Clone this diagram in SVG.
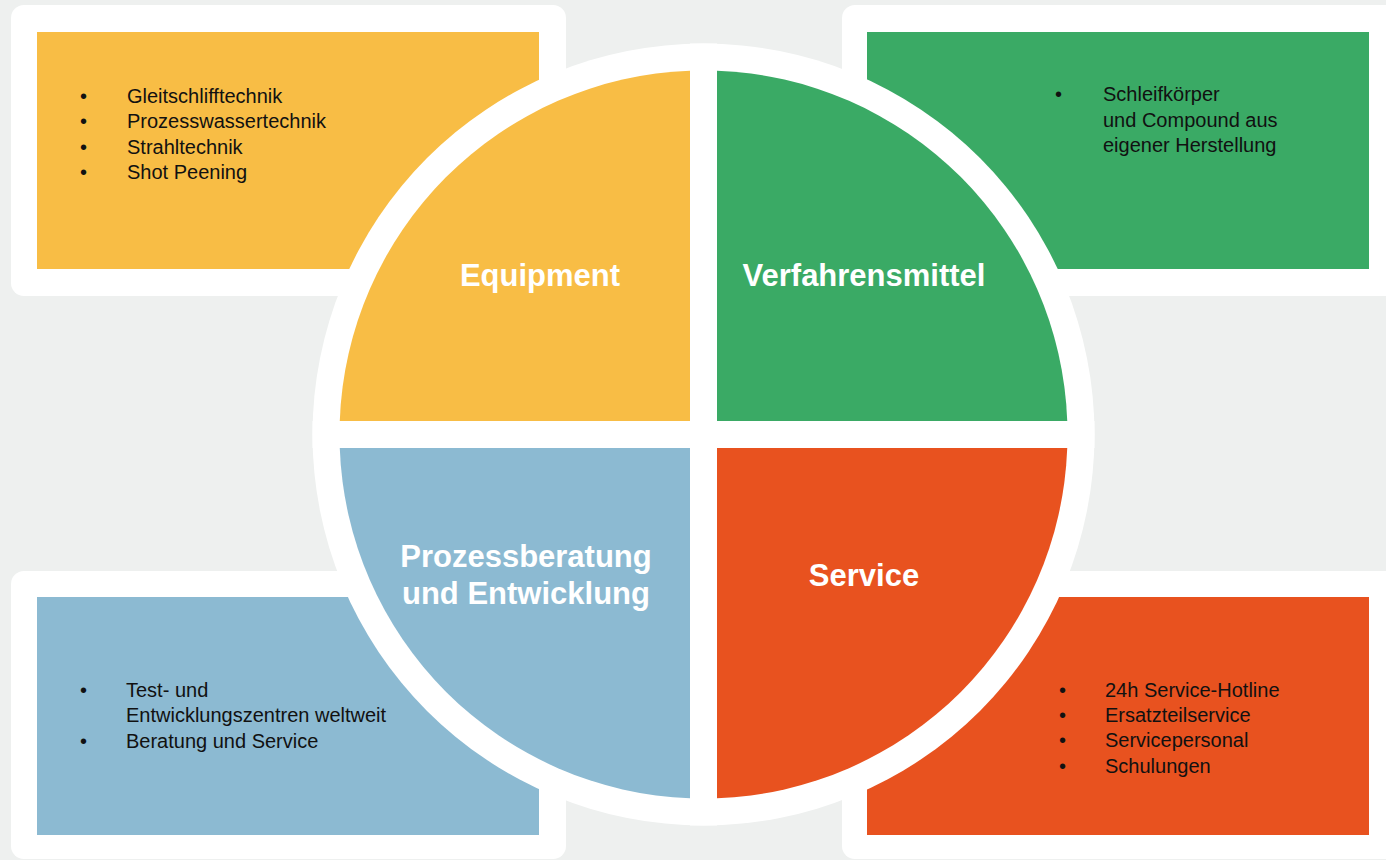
<svg xmlns="http://www.w3.org/2000/svg" width="1386" height="860" viewBox="0 0 1386 860">
  <style>
    .panel { fill: #ffffff; }
    .list { font-family: "Liberation Sans", Arial, sans-serif; font-size: 20px; fill: #111111; }
    .title { font-family: "Liberation Sans", Arial, sans-serif; font-size: 31px; font-weight: bold; fill: #ffffff; text-anchor: middle; }
    .yel { fill: #f8bd45; }
    .grn { fill: #3aaa65; }
    .blu { fill: #8cbad2; }
    .org { fill: #e8521f; }
  </style>
  <rect x="0" y="0" width="1386" height="860" fill="#eef0ef"/>

  <!-- corner panels -->
  <g id="panel-equipment">
    <rect class="panel" x="11" y="5" width="555" height="291" rx="13"/>
    <rect class="yel" x="37" y="32" width="502" height="237"/>
  </g>
  <g id="panel-verfahrensmittel">
    <rect class="panel" x="842" y="5" width="560" height="291" rx="13"/>
    <rect class="grn" x="867" y="32" width="502" height="237"/>
  </g>
  <g id="panel-prozessberatung">
    <rect class="panel" x="11" y="571" width="555" height="288" rx="13"/>
    <rect class="blu" x="37" y="597" width="502" height="238"/>
  </g>
  <g id="panel-service">
    <rect class="panel" x="842" y="571" width="560" height="288" rx="13"/>
    <rect class="org" x="867" y="597" width="502" height="238"/>
  </g>

  <!-- central circle -->
  <g id="circle">
    <circle cx="703.5" cy="434.5" r="391" fill="#ffffff"/>
    <rect x="312.5" y="421" width="782" height="27" fill="#ffffff"/>
    <rect x="690" y="43.5" width="27" height="782" fill="#ffffff"/>
  </g>

  <g id="quadrant-equipment">
    <path class="yel" d="M690,421 L339.75,421 A364,364 0 0 1 690,70.75 Z"/>
    <text class="title" x="540" y="286">Equipment</text>
  </g>
  <g id="quadrant-verfahrensmittel">
    <path class="grn" d="M717,421 L717,70.75 A364,364 0 0 1 1067.25,421 Z"/>
    <text class="title" x="864" y="286">Verfahrensmittel</text>
  </g>
  <g id="quadrant-prozessberatung">
    <path class="blu" d="M690,448 L690,798.25 A364,364 0 0 1 339.75,448 Z"/>
    <text class="title" x="526" y="567">Prozessberatung</text>
    <text class="title" x="526" y="604">und Entwicklung</text>
  </g>
  <g id="quadrant-service">
    <path class="org" d="M717,448 L1067.25,448 A364,364 0 0 1 717,798.25 Z"/>
    <text class="title" x="864" y="586">Service</text>
  </g>

  <!-- lists -->
  <g id="list-equipment" class="list">
    <text x="80" y="103">•</text><text x="127" y="103">Gleitschlifftechnik</text>
    <text x="80" y="128">•</text><text x="127" y="128">Prozesswassertechnik</text>
    <text x="80" y="154">•</text><text x="127" y="154">Strahltechnik</text>
    <text x="80" y="179">•</text><text x="127" y="179">Shot Peening</text>
  </g>
  <g id="list-verfahrensmittel" class="list">
    <text x="1055" y="101">•</text><text x="1103" y="101">Schleifkörper</text>
    <text x="1103" y="127">und Compound aus</text>
    <text x="1103" y="152">eigener Herstellung</text>
  </g>
  <g id="list-prozessberatung" class="list">
    <text x="80" y="697">•</text><text x="126" y="697">Test- und</text>
    <text x="126" y="722">Entwicklungszentren weltweit</text>
    <text x="80" y="748">•</text><text x="126" y="748">Beratung und Service</text>
  </g>
  <g id="list-service" class="list">
    <text x="1059" y="697">•</text><text x="1105" y="697">24h Service-Hotline</text>
    <text x="1059" y="722">•</text><text x="1105" y="722">Ersatzteilservice</text>
    <text x="1059" y="747">•</text><text x="1105" y="747">Servicepersonal</text>
    <text x="1059" y="773">•</text><text x="1105" y="773">Schulungen</text>
  </g>
</svg>
